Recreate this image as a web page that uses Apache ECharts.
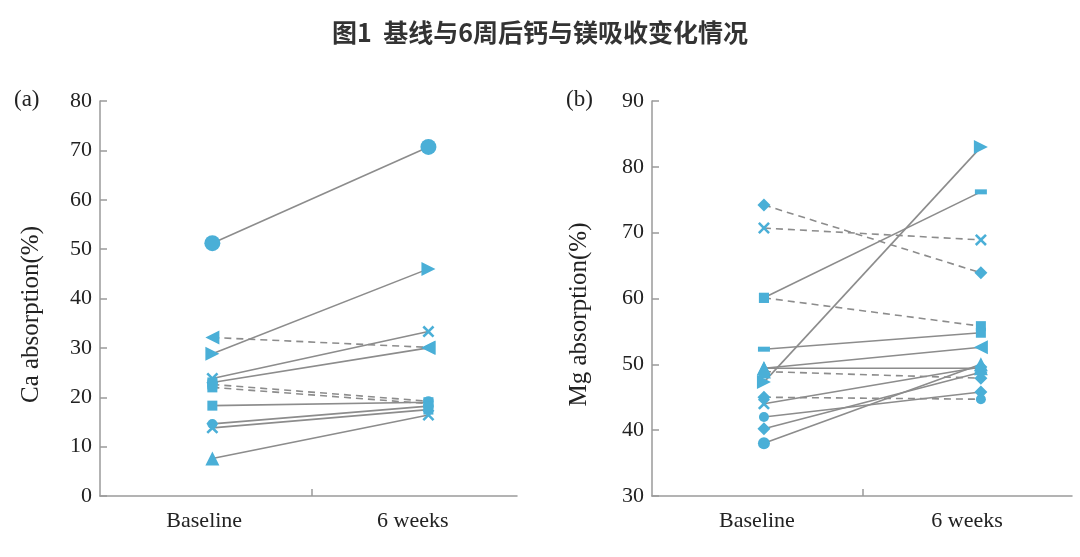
<!DOCTYPE html>
<html>
<head>
<meta charset="utf-8">
<script src="https://cdn.jsdelivr.net/npm/echarts@6/dist/echarts.min.js"></script>
<style>html,body{margin:0;padding:0;background:#fff}#c{width:1080px;height:557px}</style>
</head>
<body>
<div id="c"></div>
<script>
// ---- data ----
const titleText = '图1  基线与6周后钙与镁吸收变化情况';
const categories = ['Baseline', '6 weeks'];
const caTicks = { min: 0, max: 80, interval: 10 };
const mgTicks = { min: 30, max: 90, interval: 10 };

const caBaseline = [51.2, 32.1, 28.8, 23.8, 23.0, 22.6, 22.0, 18.3, 14.6, 13.8, 7.6];
const caWeek6    = [70.7, 30.1, 46.0, 33.3, 30.0, 19.2, 18.7, 19.0, 18.2, 17.5, 16.4];
const caBaseSym  = ['bigcircle','triL','triR','cross','rect','rect','rect','rect','circle','cross','triangle'];
const caWeekSym  = ['bigcircle','triL','triR','cross','triL','circle','rect','rect','circle','rect','cross'];
const caDecrease = [false, true, false, false, false, true, true, false, false, false, false];

const mgBaseline = [74.2, 70.7, 60.1, 60.1, 52.3, 49.4, 49.4, 48.9, 47.3, 45.0, 44.0, 42.0, 40.2, 38.0];
const mgWeek6    = [63.9, 68.9, 55.8, 76.2, 54.8, 52.6, 49.4, 47.9, 83.0, 44.7, 49.6, 45.8, 48.8, 50.0];
const mgBaseSym  = ['diamond','cross','rect','rect','dash','triangle','triangle','triangle','triR','diamond','cross','circle','diamond','circlebig'];
const mgWeekSym  = ['diamond','cross','rect','dash','rect','triL','triangle','diamond','triR','circle','diamond','diamond','diamond','triangle'];
const mgDecrease = [true, true, true, false, false, false, false, true, false, true, false, false, false, false];

// ---- styles ----
const BLUE = '#4AAFD7';
const LINE = '#8c8c8c';
const AXIS = '#9a9a9a';
const SERIF = '"Liberation Serif", "DejaVu Serif", serif';
const crossPath = 'path://M1.5,0 L5,3.5 L8.5,0 L10,1.5 L6.5,5 L10,8.5 L8.5,10 L5,6.5 L1.5,10 L0,8.5 L3.5,5 L0,1.5 Z';
const symMap = {
  circle:    { symbol: 'circle', symbolSize: 10 },
  circlebig: { symbol: 'circle', symbolSize: 12 },
  bigcircle: { symbol: 'circle', symbolSize: 16 },
  rect:      { symbol: 'rect', symbolSize: 10 },
  triangle:  { symbol: 'triangle', symbolSize: 14 },
  triL:      { symbol: 'triangle', symbolSize: 14, symbolRotate: 90 },
  triR:      { symbol: 'triangle', symbolSize: 14, symbolRotate: -90 },
  cross:     { symbol: crossPath, symbolSize: 12 },
  diamond:   { symbol: 'diamond', symbolSize: 13 },
  dash:      { symbol: 'rect', symbolSize: [12, 5] }
};

function buildPanel(gridIndex, base, week, bSym, wSym, dec) {
  const out = [];
  base.forEach((b, i) => {
    out.push({
      type: 'line', xAxisIndex: gridIndex * 2 + 1, yAxisIndex: gridIndex,
      data: [[0, b], [1, week[i]]], symbol: 'none', silent: true, z: 2,
      lineStyle: { color: LINE, width: 1.6, type: dec[i] ? [7, 5] : 'solid' }
    });
  });
  const pts = [];
  base.forEach((b, i) => pts.push(Object.assign({ value: [0, b] }, symMap[bSym[i]])));
  week.forEach((w, i) => pts.push(Object.assign({ value: [1, w] }, symMap[wSym[i]])));
  out.push({
    type: 'scatter', xAxisIndex: gridIndex * 2 + 1, yAxisIndex: gridIndex,
    data: pts, z: 5, itemStyle: { color: BLUE, opacity: 1 }
  });
  return out;
}

function catAxis(gi) {
  return {
    type: 'category', gridIndex: gi, data: categories, boundaryGap: true, position: 'bottom',
    axisLine: { onZero: false, lineStyle: { color: AXIS, width: 1.5 } },
    axisTick: { show: false },
    axisLabel: { color: '#222', fontFamily: SERIF, fontSize: 22, margin: 14 }
  };
}
// hidden axis that positions the two time points; only its divider tick is drawn
function posAxis(gi, min, max, divider) {
  return {
    type: 'value', gridIndex: gi, min: min, max: max, position: 'bottom',
    axisLine: { show: false, onZero: false },
    axisLabel: { show: false },
    splitLine: { show: false },
    axisTick: { show: true, inside: true, length: 7, customValues: [divider], lineStyle: { color: AXIS, width: 1.5 } }
  };
}
function valAxis(gi, t, name, gap) {
  return {
    type: 'value', gridIndex: gi, min: t.min, max: t.max, interval: t.interval,
    name: name, nameLocation: 'middle', nameGap: gap, nameRotate: 90,
    nameTextStyle: { color: '#222', fontFamily: SERIF, fontSize: 25, padding: [0, 32, 0, 0] },
    axisLine: { show: true, onZero: false, lineStyle: { color: AXIS, width: 1.5 } },
    axisTick: { show: true, inside: true, length: 7, lineStyle: { color: AXIS, width: 1.5 } },
    axisLabel: { color: '#222', fontFamily: SERIF, fontSize: 22, margin: 8 },
    splitLine: { show: false }
  };
}

const chart = echarts.init(document.getElementById('c'), null, { renderer: 'canvas' });
chart.setOption({
  backgroundColor: '#fff',
  animation: false,
  title: {
    text: titleText, left: 'center', top: 15,
    textStyle: { fontFamily: '"Noto Sans CJK SC", sans-serif', fontSize: 25, fontWeight: 'bold', color: '#333' }
  },
  graphic: [
    { type: 'text', left: 14, top: 88, style: { text: '(a)', font: '23px "Liberation Serif", serif', fill: '#222' } },
    { type: 'text', left: 566, top: 88, style: { text: '(b)', font: '23px "Liberation Serif", serif', fill: '#222' } }
  ],
  grid: [
    { left: 100, top: 101, width: 417, height: 395 },
    { left: 652, top: 101, width: 420, height: 395 }
  ],
  xAxis: [catAxis(0), posAxis(0, -0.52, 1.41, 0.46), catAxis(1), posAxis(1, -0.516, 1.42, 0.456)],
  yAxis: [valAxis(0, caTicks, 'Ca absorption(%)', 56), valAxis(1, mgTicks, 'Mg absorption(%)', 60)],
  series: [].concat(
    buildPanel(0, caBaseline, caWeek6, caBaseSym, caWeekSym, caDecrease),
    buildPanel(1, mgBaseline, mgWeek6, mgBaseSym, mgWeekSym, mgDecrease)
  )
});
</script>
</body>
</html>
